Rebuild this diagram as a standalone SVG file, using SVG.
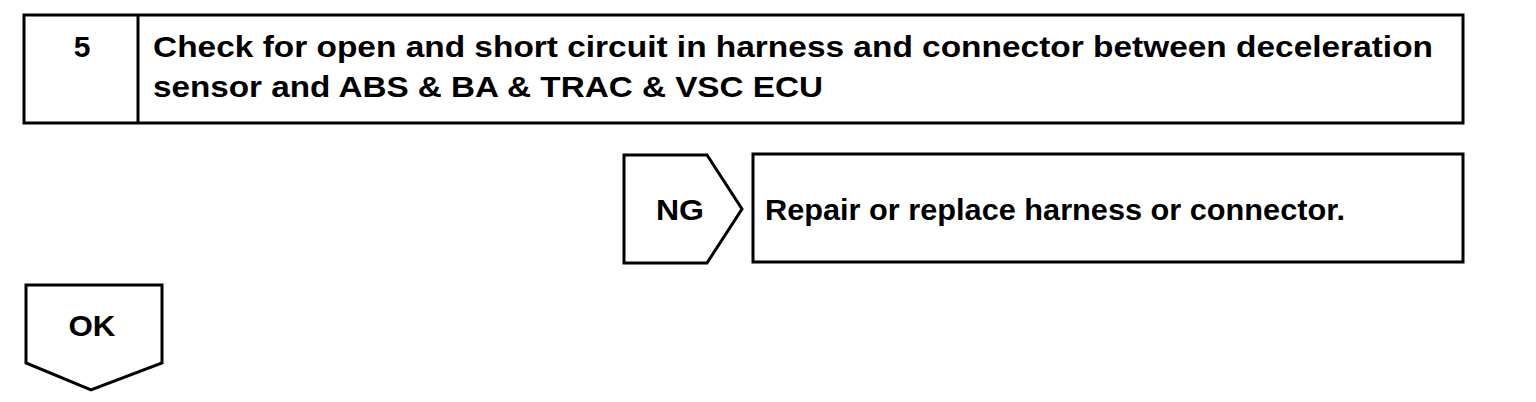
<svg xmlns="http://www.w3.org/2000/svg" width="1536" height="402" viewBox="0 0 1536 402">
<style>
.box{fill:#fff;stroke:#000;stroke-width:3;stroke-linejoin:miter}
.t{font-family:"Liberation Sans",Arial,sans-serif;font-weight:bold;font-size:30px;fill:#000}
</style>
<rect width="1536" height="402" fill="#fff"/>
<g id="step5">
<rect class="box" x="24" y="15" width="1439" height="108"/>
<line x1="138" y1="15" x2="138" y2="123" stroke="#000" stroke-width="3"/>
<text class="t" x="82" y="57" text-anchor="middle">5</text>
<text class="t" x="153" y="57" textLength="1280" lengthAdjust="spacingAndGlyphs">Check for open and short circuit in harness and connector between deceleration</text>
<text class="t" x="153" y="97" textLength="670" lengthAdjust="spacingAndGlyphs">sensor and ABS &amp; BA &amp; TRAC &amp; VSC ECU</text>
</g>
<g id="ng">
<polygon class="box" points="624,155 707,155 742,209 707,263 624,263"/>
<text class="t" x="680" y="220" text-anchor="middle" textLength="48" lengthAdjust="spacingAndGlyphs">NG</text>
</g>
<g id="repair">
<rect class="box" x="753" y="154" width="710" height="108"/>
<text class="t" x="765" y="220" textLength="580" lengthAdjust="spacingAndGlyphs">Repair or replace harness or connector.</text>
</g>
<g id="ok">
<polygon class="box" points="26,285 162,285 162,363 91,390 26,363"/>
<text class="t" x="92" y="336" text-anchor="middle" textLength="47" lengthAdjust="spacingAndGlyphs">OK</text>
</g>
<g id="connectors"></g>
</svg>
